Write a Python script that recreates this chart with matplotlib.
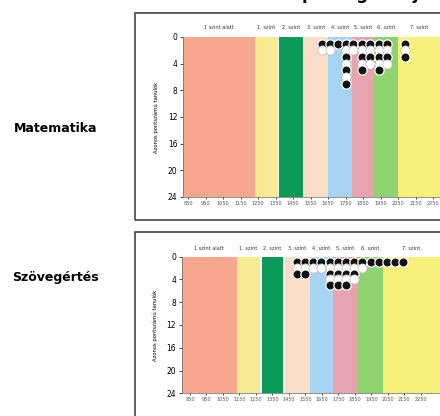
import numpy as np
import matplotlib
matplotlib.use('Agg')
import matplotlib.pyplot as plt
from matplotlib.patches import Rectangle

# skill levels (same for both subjects)
levels = ['1 szint alatt', '1. szint', '2. szint', '3. szint', '4. szint',
          '5. szint', '6. szint', '7. szint']
level_colors = ['#F7A78E', '#F6EA92', '#0C9A58', '#F9DDC6', '#A6D3F1',
                '#E8A3B0', '#8FD270', '#F6EF7A']

# level boundaries (scale points)
math_lo = [821, 1230, 1370, 1515, 1650, 1785, 1915, 2050]
math_hi = [1230, 1365, 1505, 1650, 1785, 1915, 2050, 2600]
read_lo = [800, 1135, 1285, 1425, 1575, 1715, 1870, 2020]
read_hi = [1135, 1275, 1415, 1575, 1715, 1870, 2020, 2700]

# students per score
math_scores = [1615, 1660, 1705, 1750, 1795, 1845, 1890, 1940, 1985, 2090]
math_counts = [2, 2, 1, 7, 2, 5, 4, 5, 4, 3]
read_scores = [1500, 1547, 1596, 1644, 1699, 1747, 1796, 1844, 1893, 1947,
               1996, 2044, 2093, 2141]
read_counts = [3, 3, 2, 2, 5, 5, 5, 4, 2, 1, 1, 1, 1, 1]

x_ticks = list(range(850, 2300, 100))
y_ticks = [0, 4, 8, 12, 16, 20, 24]
ylabel = 'Azonos pontszámú tanulók'

W, H = 440, 416


def draw_panel(ax, lo, hi, scores, counts, xlim, visible_end):
    for a, b, c in zip(lo, hi, level_colors):
        ax.axvspan(a, b, ymin=0, ymax=1, color=c, lw=0, zorder=1)
    for a, b, name in zip(lo, hi, levels):
        ax.text((a + min(b, visible_end)) / 2, -1.0, name, ha='center',
                va='bottom', fontsize=3.6, color='#333333')

    # stack dots row by row, so lower dots cover the ones above them
    for k in range(1, max(counts) + 1):
        for s, n in zip(scores, counts):
            if k > n:
                continue
            if k % 2 == 1:
                ax.scatter(s, k, s=44, c='#111111', edgecolors='white',
                           linewidths=0.9, zorder=3 + k)
            else:
                ax.scatter(s, k, s=44, c='white', edgecolors='#bbbbbb',
                           linewidths=0.5, zorder=3 + k)

    ax.set_xlim(*xlim)
    ax.set_ylim(24, 0)
    ax.set_yticks(y_ticks)
    ax.set_xticks(x_ticks)
    ax.set_xticklabels([str(t) for t in x_ticks], fontsize=3.6, color='#555555')
    ax.tick_params(axis='y', labelsize=5.5, length=2, width=0.5, pad=2)
    ax.tick_params(axis='x', length=1.5, width=0.5, pad=1.5)
    ax.set_ylabel(ylabel, fontsize=3.8, labelpad=6)
    for side in ['top', 'right']:
        ax.spines[side].set_visible(False)
    for side in ['left', 'bottom']:
        ax.spines[side].set_linewidth(0.5)
        ax.spines[side].set_color('#666666')
    ax.set_facecolor('white')


def main():
    fig = plt.figure(figsize=(W / 100, H / 100), dpi=100)

    # panel frames (cut by the page edge on the right)
    fig.patches.append(Rectangle((135 / W, 1 - 220 / H), 320 / W, 207 / H,
                                 transform=fig.transFigure, fill=False,
                                 lw=1.2, ec='#444444'))
    fig.patches.append(Rectangle((135 / W, -0.05), 320 / W, 0.05 + (416 - 232) / H,
                                 transform=fig.transFigure, fill=False,
                                 lw=1.2, ec='#444444'))

    ax1 = fig.add_axes([183 / W, 1 - 197 / H, (2520 - 821) * 0.175 / W, 160 / H])
    draw_panel(ax1, math_lo, math_hi, math_scores, math_counts, (821, 2520), 2290)

    ax2 = fig.add_axes([181.7 / W, 1 - 393.3 / H, (2610 - 800) * 0.165 / W, 136.6 / H])
    draw_panel(ax2, read_lo, read_hi, read_scores, read_counts, (800, 2610), 2365)

    fig.text(56 / W, 1 - 128 / H, 'Matematika', ha='center', va='center',
             fontsize=9, weight='bold')
    fig.text(55 / W, 1 - 277 / H, 'Szövegértés', ha='center', va='center',
             fontsize=9, weight='bold')
    # page title, mostly above the cropped top edge
    fig.text(310 / W, 1 + 1 / H, 'Tanulóink képességszintjei', ha='center',
             va='baseline', fontsize=12, weight='bold')

    fig.savefig('out.png', dpi=100)


if __name__ == '__main__':
    main()
